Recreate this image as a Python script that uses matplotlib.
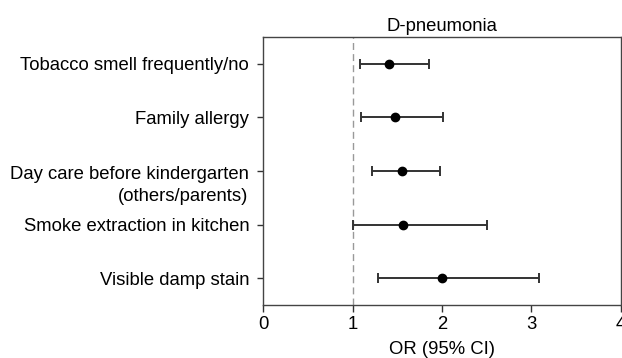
import matplotlib
matplotlib.use("Agg")
import matplotlib.pyplot as plt

plt.rcParams['font.family'] = ['Liberation Sans', 'DejaVu Sans']

labels = ["Tobacco smell frequently/no",
          "Family allergy",
          "Day care before kindergarten\n(others/parents)",
          "Smoke extraction in kitchen",
          "Visible damp stain"]
odds = [1.41, 1.48, 1.55, 1.57, 2.00]
lower = [1.08, 1.10, 1.22, 1.00, 1.29]
upper = [1.85, 2.01, 1.98, 2.50, 3.09]
xticks = [0, 1, 2, 3, 4]

FS = 13.3
fig = plt.figure(figsize=(6.22, 3.58), dpi=100)
ax = fig.add_axes([0.423, 0.148, 0.575, 0.749])

pos = list(range(1, len(labels) + 1))
xerr = [[o - l for o, l in zip(odds, lower)], [u - o for o, u in zip(odds, upper)]]
ax.errorbar(odds, pos, xerr=xerr, fmt='o', color='black', ecolor='#333333',
            elinewidth=1.4, capsize=3.3, capthick=1.4, markersize=6, zorder=3)
ax.axvline(1, color='#999999', linestyle=(0, (5, 3)), linewidth=1.0, zorder=1)

ax.set_xlim(0, 4)
ax.set_ylim(5.5, 0.5)
ax.set_xticks(xticks)
ax.set_xticklabels([str(t) for t in xticks], fontsize=FS)
ax.set_yticks(pos)
ax.set_yticklabels(["" if "\n" in l else l for l in labels], fontsize=FS)
for p, l in zip(pos, labels):
    if "\n" in l:
        ax.annotate(l, xy=(0, p), xycoords=('axes fraction', 'data'),
                    xytext=(-14.5, -14.5), textcoords='offset pixels',
                    ha='right', va='center', multialignment='right',
                    linespacing=1.35, fontsize=FS, annotation_clip=False)

ax.tick_params(axis='x', direction='out', length=5, width=1, colors='#333333', labelcolor='black', pad=3)
ax.tick_params(axis='y', direction='out', length=4, width=1, colors='#333333', labelcolor='black', pad=6)
for s in ax.spines.values():
    s.set_color('#444444')
    s.set_linewidth(1.0)

ax.set_title("D-pneumonia", fontsize=FS, pad=4)
ax.set_xlabel("OR (95% CI)", fontsize=FS, labelpad=6)

fig.savefig("out.png", dpi=100)
